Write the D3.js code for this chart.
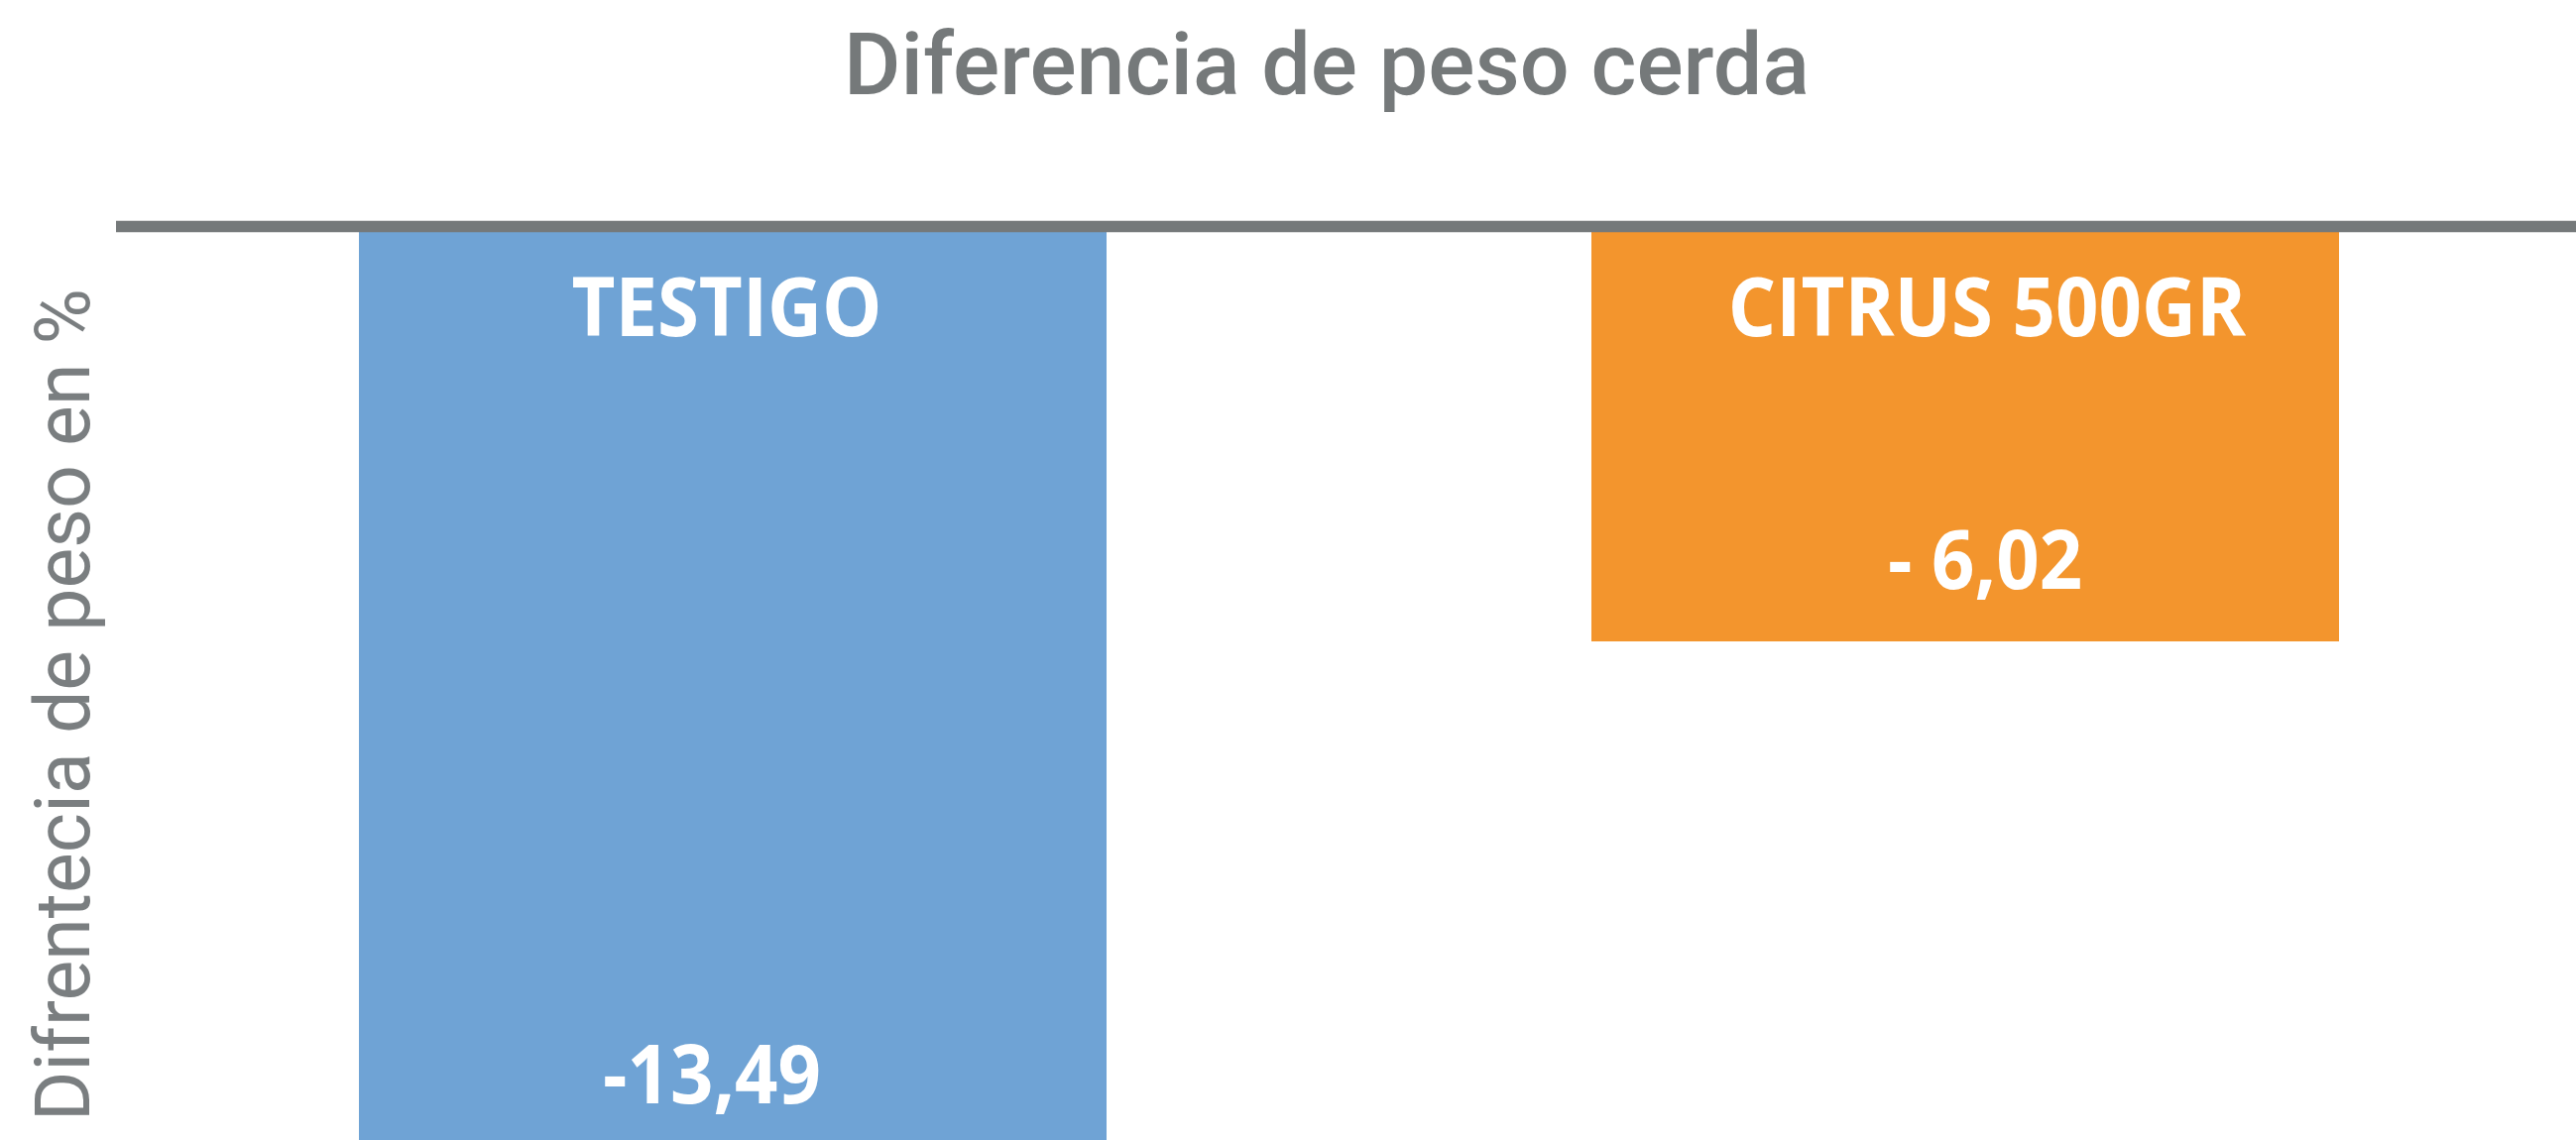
<!DOCTYPE html>
<html>
<head>
<meta charset="utf-8">
<script src="https://cdn.jsdelivr.net/npm/d3@7/dist/d3.min.js"></script>
<style>
  html, body { margin: 0; padding: 0; background: #ffffff; overflow: hidden; }
  svg { display: block; }
</style>
</head>
<body>
<svg id="chart" width="2598" height="1150"></svg>
<script>
// ---- data ----
const categories = ["TESTIGO", "CITRUS 500GR"];
const values = [-13.49, -6.02];
const valueLabels = ["-13,49", "- 6,02"];
const colors = ["#6FA3D5", "#F3952D"];
const titleText = "Diferencia de peso cerda";
const yAxisTitle = "Difrentecia de peso en %";

// ---- layout ----
const W = 2598, H = 1150;
const zeroY = 228.5;
const pxPerUnit = 69.52;
const catLabelDx = [-6, 22];
const valLabelDx = [-21, 20];

const svg = d3.select("#chart");

const x = d3.scaleBand()
  .domain(categories)
  .range([362, 2359])
  .paddingInner(0.3934)
  .paddingOuter(0);

const y = d3.scaleLinear()
  .domain([0, -15])
  .range([zeroY, zeroY + 15 * pxPerUnit]);

// bars
svg.append("g").selectAll("rect")
  .data(categories)
  .join("rect")
  .attr("x", d => x(d))
  .attr("width", x.bandwidth())
  .attr("y", (d, i) => Math.min(y(0), y(values[i])))
  .attr("height", (d, i) => Math.abs(y(values[i]) - y(0)))
  .attr("fill", (d, i) => colors[i]);

// zero axis line
svg.append("line")
  .attr("x1", 117).attr("x2", W)
  .attr("y1", y(0)).attr("y2", y(0))
  .attr("stroke", "#75797A")
  .attr("stroke-width", 11.5);

// label helper: bold text slightly condensed to mimic a narrow bold face
function label(g, xPos, yPos, txt) {
  g.append("text")
    .attr("transform", `translate(${xPos},${yPos}) scale(0.95,1.03)`)
    .attr("text-anchor", "middle")
    .attr("font-family", "'Open Sans', sans-serif")
    .attr("font-weight", 700)
    .attr("font-size", 80)
    .attr("fill", "#ffffff")
    .text(txt);
}

const labels = svg.append("g");
categories.forEach((c, i) => {
  const cx = x(c) + x.bandwidth() / 2;
  label(labels, cx + catLabelDx[i], y(0) + 110, c);
  label(labels, cx + valLabelDx[i], y(values[i]) - 53, valueLabels[i]);
});

// title
svg.append("text")
  .attr("x", 1338)
  .attr("y", 95)
  .attr("text-anchor", "middle")
  .attr("font-family", "Roboto, sans-serif")
  .attr("font-weight", 500)
  .attr("font-size", 88)
  .attr("fill", "#75797A")
  .text(titleText);

// y axis title
svg.append("text")
  .attr("transform", "translate(90,711) rotate(-90)")
  .attr("text-anchor", "middle")
  .attr("font-family", "Roboto, sans-serif")
  .attr("font-weight", 400)
  .attr("font-size", 77)
  .attr("fill", "#7A7E80")
  .text(yAxisTitle);
</script>
</body>
</html>
